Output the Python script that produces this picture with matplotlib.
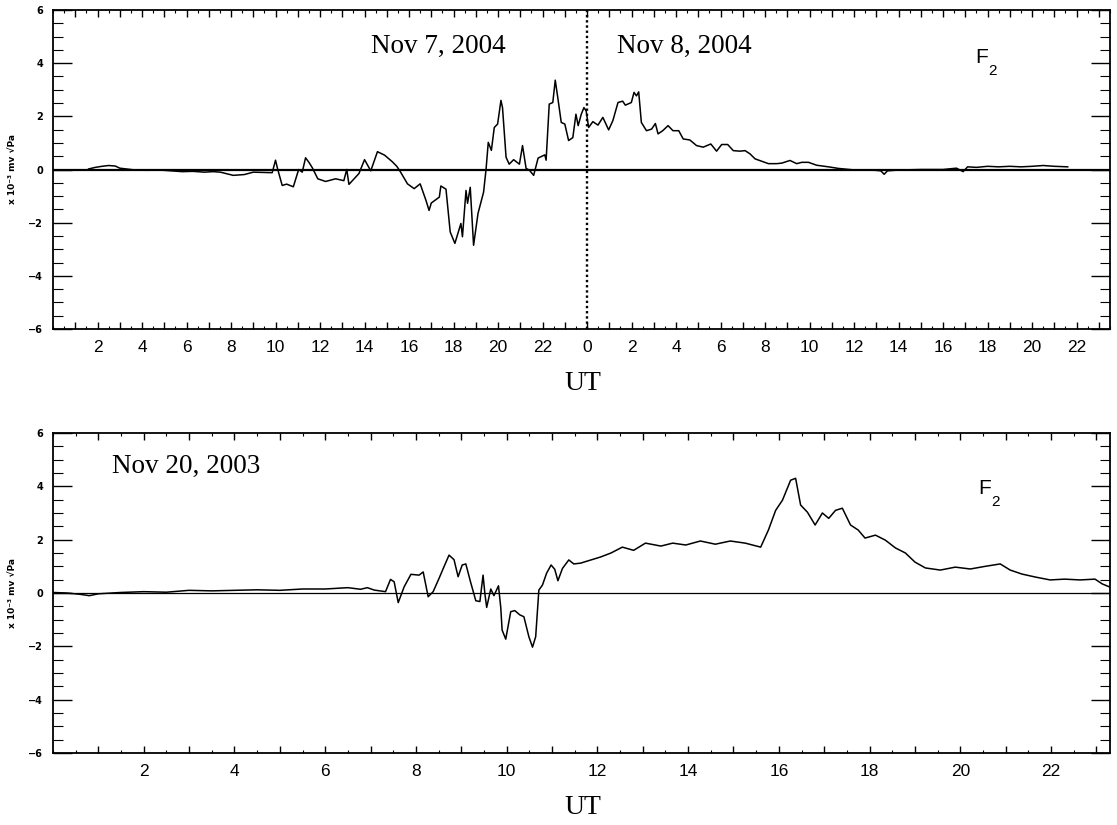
import numpy as np
import matplotlib.pyplot as plt
from matplotlib.ticker import FixedLocator, MultipleLocator, FuncFormatter

# ---- data (hours UT, x 10^-3 mV/sqrt(Pa)) ----
# top panel: hours counted from 00 UT Nov 7, 2004 (24 = 00 UT Nov 8)
top_t = [1.6, 1.9, 2.2, 2.5, 2.8, 3.0, 3.3, 3.7, 4.2, 4.8, 5.3, 5.8, 6.3, 6.8, 7.2,
         7.52, 8.1, 8.6, 9.0, 9.85, 10.0, 10.1, 10.3, 10.5, 10.8, 11.04, 11.2, 11.35,
         11.5, 11.65, 11.9, 12.25, 12.7, 13.07, 13.2, 13.3, 13.75, 14.0, 14.28, 14.58,
         14.9, 15.25, 15.45, 15.6, 15.93, 16.23, 16.5, 16.76, 16.9, 17.0, 17.36, 17.43,
         17.66, 17.85, 18.06, 18.33, 18.4, 18.56, 18.63, 18.75, 18.9, 19.1, 19.35,
         19.46, 19.56, 19.7, 19.83, 19.98, 20.13, 20.2, 20.36, 20.5, 20.7, 20.96, 21.1,
         21.26, 21.4, 21.6, 21.8, 22.1, 22.16, 22.3, 22.46, 22.57, 22.69, 22.84, 23.0,
         23.17, 23.36, 23.5, 23.6, 23.74, 23.86, 23.96, 24.07, 24.26, 24.49, 24.71,
         24.97, 25.16, 25.39, 25.6, 25.72, 25.99, 26.11, 26.22, 26.32, 26.44, 26.67,
         26.9, 27.07, 27.19, 27.4, 27.64, 27.86, 28.12, 28.32, 28.62, 28.92, 29.22,
         29.56, 29.82, 30.05, 30.32, 30.57, 30.87, 31.1, 31.32, 31.55, 31.85, 32.15,
         32.52, 32.75, 33.12, 33.42, 33.65, 33.95, 34.32, 34.85, 35.3, 36.05, 36.95,
         37.2, 37.35, 37.5, 38.0, 39.0, 40.0, 40.6, 40.9, 41.1, 41.5, 42.0, 42.5, 43.0,
         43.5, 44.0, 44.5, 45.0, 45.6]
top_v = [0.02, 0.08, 0.12, 0.15, 0.13, 0.05, 0.02, -0.02, -0.03, -0.02, -0.05, -0.08,
         -0.07, -0.1, -0.08,
         -0.1, -0.22, -0.19, -0.1, -0.12, 0.35, 0.0, -0.6, -0.55, -0.65, 0.0, -0.1, 0.44,
         0.27, 0.07, -0.35, -0.45, -0.35, -0.42, 0.0, -0.56, -0.15, 0.37, -0.05, 0.67,
         0.54, 0.29, 0.12, -0.07, -0.54, -0.72, -0.54, -1.16, -1.54, -1.26, -1.04, -0.62,
         -0.74, -2.35, -2.78, -2.03, -2.53, -0.79, -1.27, -0.67, -2.85, -1.65, -0.85,
         0.0, 1.02, 0.72, 1.58, 1.71, 2.6, 2.33, 0.46, 0.2, 0.37, 0.2, 0.9,
         0.04, -0.02, -0.22, 0.43, 0.55, 0.35, 2.46, 2.52, 3.36, 2.67, 1.77, 1.71,
         1.09, 1.2, 2.08, 1.65, 2.08, 2.33, 2.2, 1.58, 1.8, 1.67, 1.96,
         1.49, 1.84, 2.52, 2.57, 2.42, 2.52, 2.9, 2.77, 2.92, 1.77, 1.46,
         1.52, 1.73, 1.34, 1.46, 1.65, 1.46, 1.46, 1.15, 1.11, 0.9, 0.84,
         0.96, 0.69, 0.94, 0.94, 0.71, 0.69, 0.71, 0.59, 0.4, 0.31, 0.22,
         0.22, 0.24, 0.34, 0.22, 0.27, 0.27, 0.16, 0.1, 0.04, -0.02, -0.03,
         -0.05, -0.18, -0.05, -0.02, 0.0, 0.0, 0.05, -0.08, 0.1, 0.08, 0.12, 0.1, 0.12,
         0.1, 0.12, 0.15, 0.12, 0.1]

# bottom panel: Nov 20, 2003
bot_t = [0.0, 0.3, 0.6, 0.8, 1.0, 1.5, 2.0, 2.5, 3.0, 3.5, 4.0, 4.5, 5.0, 5.5, 6.0, 6.5,
         6.78, 6.93, 7.08, 7.33, 7.44, 7.52, 7.61, 7.74, 7.89, 8.07, 8.16, 8.27, 8.38,
         8.51, 8.62, 8.73, 8.84, 8.93, 9.02, 9.1, 9.2, 9.32, 9.41, 9.48, 9.52, 9.56,
         9.65, 9.72, 9.82, 9.87, 9.9, 9.98, 10.09, 10.18, 10.29, 10.38, 10.49, 10.57,
         10.64, 10.71, 10.79, 10.88, 10.98, 11.06, 11.13, 11.23, 11.37, 11.48, 11.63,
         12.07, 12.3, 12.55, 12.8, 13.06, 13.4, 13.66, 13.95, 14.27, 14.6, 14.93, 15.26,
         15.6, 15.77, 15.93, 16.08, 16.26, 16.37, 16.48, 16.63, 16.8, 16.96, 17.1, 17.25,
         17.4, 17.58, 17.75, 17.9, 18.13, 18.35, 18.57, 18.79, 19.0, 19.23, 19.56, 19.89,
         20.22, 20.55, 20.88, 21.1, 21.36, 21.65, 21.98, 22.3, 22.64, 22.97, 23.13, 23.3]
bot_v = [0.02, 0.0, -0.05, -0.1, -0.03, 0.02, 0.05, 0.03, 0.1, 0.08, 0.1, 0.12, 0.1,
         0.15, 0.15, 0.2,
         0.14, 0.2, 0.11, 0.05, 0.51, 0.42, -0.36, 0.23, 0.7, 0.67, 0.79, -0.14, 0.05,
         0.55, 0.99, 1.42, 1.25, 0.61, 1.05, 1.09, 0.44, -0.29, -0.32, 0.67, -0.02,
         -0.54, 0.15, -0.1, 0.27, -0.54, -1.39, -1.73, -0.7, -0.66, -0.82, -0.89, -1.64,
         -2.03, -1.64, 0.11, 0.3, 0.74, 1.05, 0.89, 0.46, 0.92, 1.24, 1.09, 1.12,
         1.35, 1.5, 1.72, 1.6, 1.87, 1.76, 1.87, 1.8, 1.95, 1.83, 1.95, 1.87,
         1.72, 2.36, 3.1, 3.48, 4.23, 4.3, 3.3, 3.03, 2.55, 3.0, 2.8, 3.1,
         3.18, 2.55, 2.36, 2.06, 2.17, 1.98, 1.69, 1.5, 1.16, 0.94, 0.86, 0.97,
         0.9, 1.0, 1.09, 0.86, 0.71, 0.6, 0.49, 0.52, 0.49, 0.52, 0.34, 0.22]

W, H = 1117, 825
fig = plt.figure(figsize=(W / 100, H / 100), dpi=100)


def fpos(x, y):
    return x / W, 1 - y / H


def style_axis(ax, xmax, day_wrap):
    ax.set_xlim(0, xmax)
    ax.set_ylim(-6, 6)
    for s in ax.spines.values():
        s.set_linewidth(1.3)
    hours = np.arange(1, int(xmax) + 1)
    ax.xaxis.set_major_locator(FixedLocator(hours))
    ax.xaxis.set_minor_locator(MultipleLocator(0.5))
    ax.xaxis.set_major_formatter(FuncFormatter(
        lambda t, p: str(int(round(t)) % 24) if int(round(t)) % 2 == 0 else ''))
    ax.yaxis.set_major_locator(MultipleLocator(2))
    ax.yaxis.set_minor_locator(MultipleLocator(0.5))
    ax.tick_params(axis='x', which='major', direction='in', length=5, width=1.0,
                   top=True, bottom=True, labelsize=12.5, pad=8)
    ax.tick_params(axis='x', which='minor', direction='in', length=2.5, width=0.8,
                   top=True, bottom=True)
    ax.tick_params(axis='y', which='major', direction='in', length=14, width=1.0,
                   left=True, right=True, labelsize=7, pad=7)
    ax.tick_params(axis='y', which='minor', direction='in', length=7, width=0.8,
                   left=True, right=True)
    for lab in ax.get_xticklabels():
        lab.set_fontfamily('Liberation Sans')
    for lab in ax.get_yticklabels():
        lab.set_fontweight('bold')
        lab.set_fontfamily('DejaVu Sans')
    ax.set_ylabel('x 10⁻³ mv √Pa', fontsize=6.5, fontweight='bold', labelpad=8)


# ---- top panel ----
ax1 = fig.add_axes([53 / W, 1 - 329 / H, 1057 / W, 319 / H])
ax1.plot(top_t, top_v, color='k', lw=1.1)
ax1.axhline(0, color='k', lw=1.6)
ax1.axvline(24, color='k', lw=1.7, ls=(0, (1, 1.2)))
style_axis(ax1, 47.5, True)

# ---- bottom panel ----
ax2 = fig.add_axes([53 / W, 1 - 753 / H, 1057 / W, 320 / H])
ax2.plot(bot_t, bot_v, color='k', lw=1.1)
ax2.axhline(0, color='k', lw=0.9)
style_axis(ax2, 23.3, False)

serif = 'Liberation Serif'
fig.text(*fpos(438, 53), 'Nov 7, 2004', family=serif, fontsize=19.5, ha='center', va='baseline')
fig.text(*fpos(684, 53), 'Nov 8, 2004', family=serif, fontsize=19.5, ha='center', va='baseline')
fig.text(*fpos(112, 473), 'Nov 20, 2003', family=serif, fontsize=19.5, ha='left', va='baseline')

for fx, fy in [(975, 63), (978, 494)]:
    fig.text(*fpos(fx, fy), 'F', family='Liberation Sans', fontsize=15, va='baseline')
    fig.text(*fpos(fx + 13, fy + 12), '2', family='Liberation Sans', fontsize=11, va='baseline')

fig.text(*fpos(583, 384), 'UT', family=serif, fontsize=20, ha='center', va='center')
fig.text(*fpos(583, 808), 'UT', family=serif, fontsize=20, ha='center', va='center')

plt.savefig('out.png', dpi=100)
